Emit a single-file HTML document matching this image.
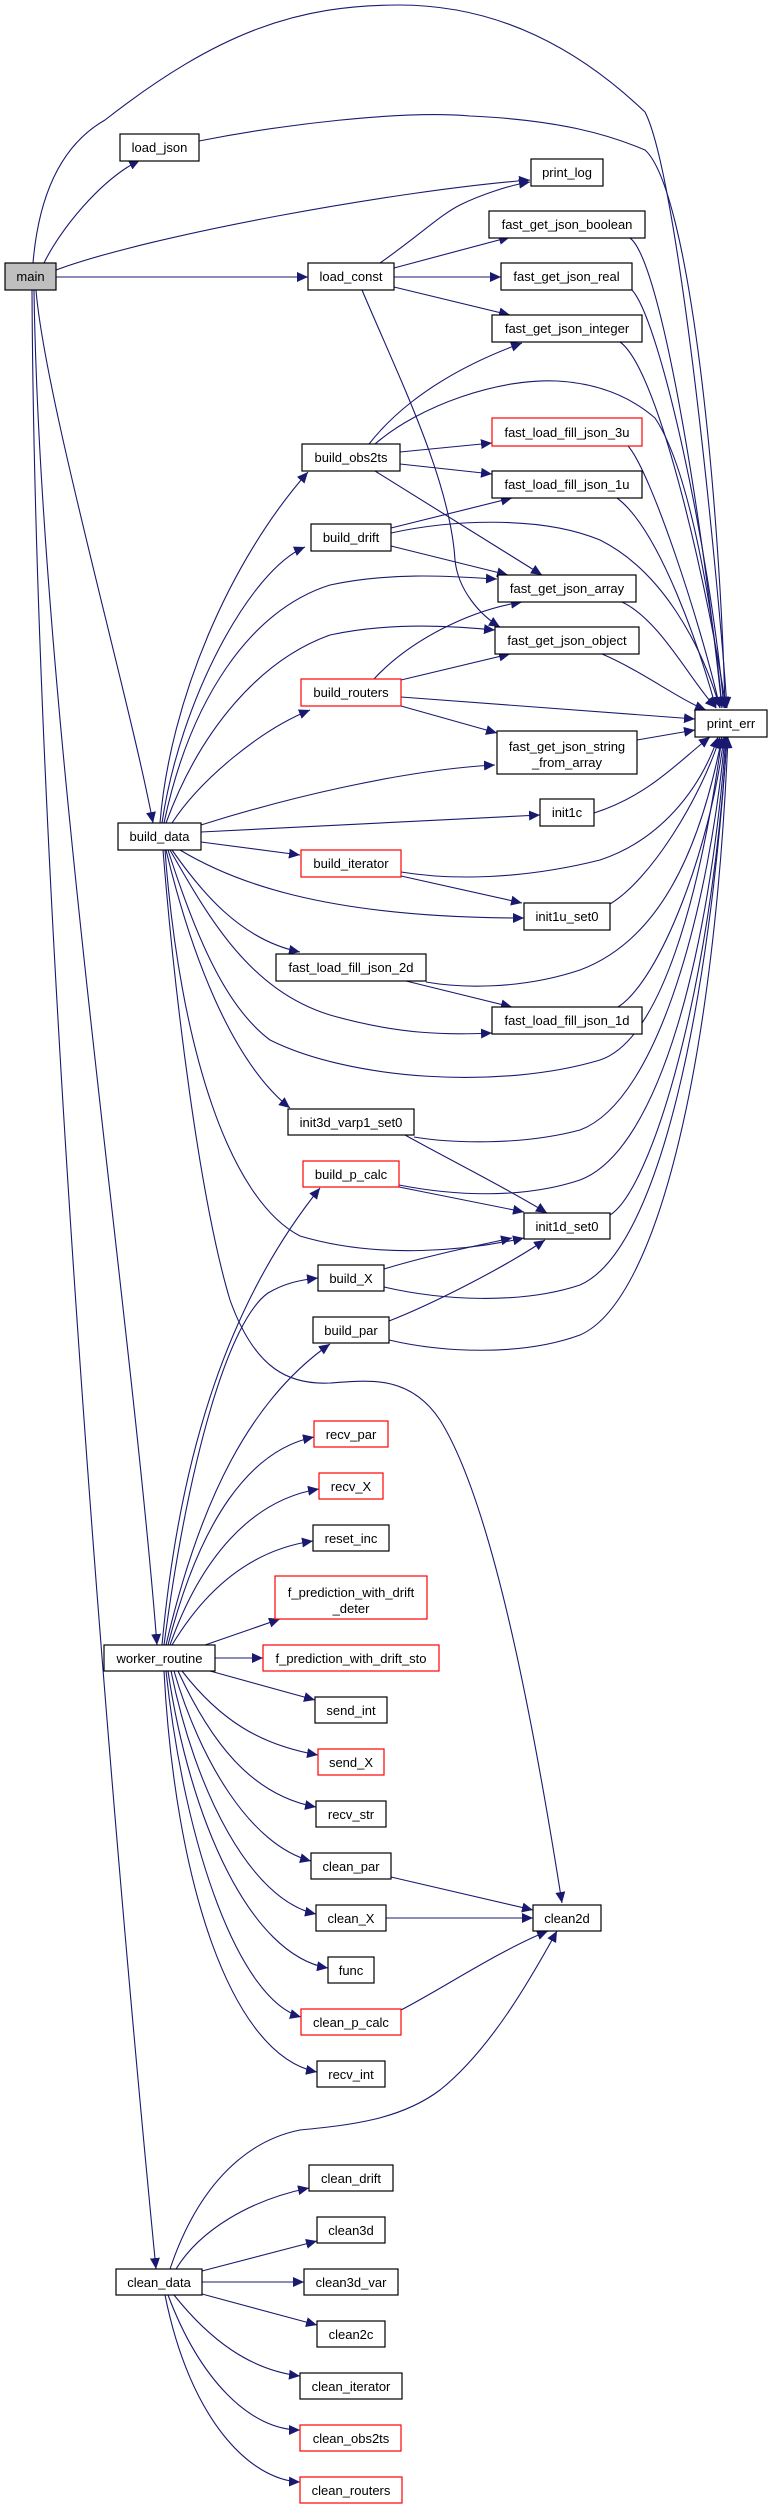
<!DOCTYPE html>
<html><head><meta charset="utf-8"><style>html,body{margin:0;padding:0;background:#fff}svg{display:block}</style></head>
<body>
<svg width="768" height="2510" viewBox="0 0 768 2510" xmlns="http://www.w3.org/2000/svg">
<defs>
<marker id="a" markerUnits="userSpaceOnUse" markerWidth="12" markerHeight="10" refX="11" refY="5" orient="auto">
<path d="M0,0 L11,5 L0,10 z" fill="#191970"/>
</marker>
</defs>
<g fill="none" stroke="#191970" stroke-width="1.1" marker-end="url(#a)">
<!-- main -->
<path d="M33,263 C40,180 70,140 105,120 C220,30 300,5 399,5 C500,5 580,50 645,112 C680,180 720,600 727,708"/>
<path d="M199,141 C280,125 400,110 470,116 C560,120 610,135 645,150 C690,190 720,500 725,708"/>
<path d="M44,263 C60,230 100,180 140,160"/>
<path d="M56,270 C150,235 400,190 530,180"/>
<path d="M56,277 L308,277"/>
<path d="M36,290 C45,400 130,700 153,823"/>
<path d="M34,290 C40,700 130,1300 157,1645"/>
<path d="M32,290 C35,900 110,1800 156,2269"/>
<!-- load_const -->
<path d="M380,263 C420,235 440,215 460,205 C480,195 510,185 530,182"/>
<path d="M394,268 L510,237"/>
<path d="M394,277 L501,277"/>
<path d="M394,287 L510,315"/>
<path d="M362,290 C400,380 450,480 455,560 C458,590 480,615 500,627"/>
<!-- to print_err -->
<path d="M630,238 C660,260 700,500 722,708"/>
<path d="M632,290 C660,320 710,550 724,708"/>
<path d="M620,342 C660,370 710,600 726,708"/>
<path d="M628,446 C650,470 700,620 720,708"/>
<path d="M617,498 C660,530 700,650 716,708"/>
<path d="M622,602 C660,620 690,680 716,708"/>
<path d="M602,654 C640,670 680,700 706,710"/>
<path d="M401,697 L695,719"/>
<path d="M637,740 L695,730"/>
<path d="M594,813 C650,795 680,760 710,737"/>
<!-- build_obs2ts -->
<path d="M369,444 C380,430 420,380 522,343"/>
<path d="M375,444 C420,405 500,378 557,381 C610,384 640,405 655,418 C690,470 715,620 722,708"/>
<path d="M400,452 L492,443"/>
<path d="M400,464 L492,474"/>
<path d="M375,471 L542,575"/>
<!-- build_drift -->
<path d="M391,528 L512,498"/>
<path d="M391,533 C450,520 540,515 600,540 C660,570 700,640 720,708"/>
<path d="M391,546 L508,575"/>
<!-- build_routers -->
<path d="M374,679 C410,640 470,610 522,602"/>
<path d="M401,680 L510,654"/>
<path d="M401,706 L497,733"/>
<!-- build_data -->
<path d="M160,823 C170,700 230,560 308,472"/>
<path d="M162,823 C180,700 250,570 305,547"/>
<path d="M164,823 C190,700 250,610 330,585 C400,570 470,578 497,579"/>
<path d="M166,823 C200,730 260,660 330,635 C400,620 470,628 495,630"/>
<path d="M172,823 C200,780 260,730 310,710"/>
<path d="M201,825 C280,800 400,770 495,765"/>
<path d="M201,832 L540,815"/>
<path d="M201,842 L300,855"/>
<path d="M180,850 C230,880 320,918 524,918"/>
<path d="M172,850 C200,890 240,940 300,952"/>
<path d="M170,850 C210,920 250,990 330,1015 C400,1035 450,1035 492,1033"/>
<path d="M168,850 C200,950 230,1010 270,1040 C350,1080 500,1090 600,1060 C660,1040 700,900 722,737"/>
<path d="M166,850 C190,950 230,1060 290,1108"/>
<path d="M165,850 C180,1050 230,1200 300,1236 C380,1260 470,1250 524,1238"/>
<path d="M163,850 C175,1000 200,1200 230,1300 C255,1370 290,1385 330,1383 C370,1380 410,1375 440,1420 C490,1500 530,1700 562,1903"/>
<!-- lower feeds to print_err -->
<path d="M401,872 C450,880 520,880 600,860 C660,840 700,790 718,737"/>
<path d="M401,876 L522,903"/>
<path d="M610,904 C650,880 700,800 720,737"/>
<path d="M426,982 C460,988 520,990 580,970 C660,940 700,850 722,737"/>
<path d="M406,981 L512,1007"/>
<path d="M618,1007 C660,980 710,850 724,737"/>
<path d="M414,1137 C450,1143 520,1146 580,1130 C660,1100 710,900 725,737"/>
<path d="M405,1135 C450,1160 510,1190 547,1213"/>
<path d="M399,1185 C450,1195 520,1200 580,1180 C660,1150 710,950 726,737"/>
<path d="M399,1187 L524,1212"/>
<path d="M610,1215 C650,1190 710,1000 727,737"/>
<path d="M384,1269 C430,1255 480,1245 512,1238"/>
<path d="M389,1321 C430,1305 500,1270 545,1240"/>
<path d="M384,1287 C440,1300 520,1305 580,1285 C660,1250 710,1000 727,737"/>
<path d="M389,1340 C440,1352 520,1357 580,1335 C660,1300 715,1050 728,737"/>
<!-- worker_routine -->
<path d="M162,1645 C180,1450 230,1300 320,1188"/>
<path d="M164,1645 C190,1450 230,1320 268,1293 C285,1283 300,1280 318,1278"/>
<path d="M166,1645 C200,1500 250,1400 330,1344"/>
<path d="M168,1645 C200,1520 250,1450 314,1437"/>
<path d="M170,1645 C200,1560 250,1500 319,1489"/>
<path d="M172,1645 C205,1590 250,1550 313,1541"/>
<path d="M205,1645 L280,1619"/>
<path d="M215,1658 L263,1658"/>
<path d="M210,1671 L315,1700"/>
<path d="M182,1671 C220,1720 260,1745 318,1755"/>
<path d="M178,1671 C210,1740 250,1795 316,1807"/>
<path d="M174,1671 C200,1760 250,1845 311,1861"/>
<path d="M171,1671 C195,1790 250,1900 316,1914"/>
<path d="M168,1671 C190,1820 250,1955 328,1968"/>
<path d="M166,1671 C185,1850 240,2000 301,2017"/>
<path d="M164,1671 C175,1880 230,2055 317,2072"/>
<path d="M391,1877 L533,1910"/>
<path d="M386,1918 L533,1918"/>
<path d="M401,2010 C440,1990 500,1950 548,1931"/>
<!-- clean_data -->
<path d="M170,2269 C200,2180 250,2140 300,2130 C350,2125 400,2120 440,2090 C490,2050 530,1980 557,1931"/>
<path d="M176,2269 C200,2230 250,2200 309,2188"/>
<path d="M202,2271 L317,2241"/>
<path d="M202,2282 L304,2282"/>
<path d="M202,2294 L317,2325"/>
<path d="M174,2295 C210,2340 250,2370 300,2376"/>
<path d="M168,2295 C200,2380 250,2430 300,2430"/>
<path d="M165,2295 C190,2420 250,2480 300,2482"/>
</g>
<g stroke="#000" stroke-width="1.2" fill="#fff">
<rect x="5" y="263" width="51" height="27" fill="#bfbfbf"/>
<rect x="120" y="134" width="79" height="27"/>
<rect x="531" y="159" width="72" height="27"/>
<rect x="489" y="211" width="156" height="27"/>
<rect x="308" y="263" width="86" height="27"/>
<rect x="501" y="263" width="131" height="27"/>
<rect x="492" y="315" width="150" height="27"/>
<rect x="302" y="444" width="98" height="27"/>
<rect x="492" y="471" width="150" height="27"/>
<rect x="311" y="524" width="80" height="27"/>
<rect x="498" y="575" width="138" height="27"/>
<rect x="495" y="627" width="144" height="27"/>
<rect x="695" y="710" width="72" height="27"/>
<rect x="497" y="731" width="140" height="43"/>
<rect x="540" y="799" width="54" height="27"/>
<rect x="118" y="823" width="83" height="27"/>
<rect x="524" y="903" width="86" height="27"/>
<rect x="276" y="954" width="150" height="27"/>
<rect x="492" y="1007" width="150" height="27"/>
<rect x="288" y="1109" width="126" height="26"/>
<rect x="524" y="1213" width="86" height="26"/>
<rect x="318" y="1265" width="66" height="26"/>
<rect x="313" y="1317" width="76" height="26"/>
<rect x="313" y="1525" width="76" height="26"/>
<rect x="104" y="1645" width="111" height="26"/>
<rect x="315" y="1697" width="72" height="26"/>
<rect x="316" y="1801" width="70" height="26"/>
<rect x="311" y="1853" width="80" height="26"/>
<rect x="316" y="1905" width="70" height="26"/>
<rect x="533" y="1905" width="68" height="26"/>
<rect x="328" y="1957" width="46" height="26"/>
<rect x="317" y="2061" width="68" height="26"/>
<rect x="309" y="2165" width="84" height="26"/>
<rect x="317" y="2217" width="68" height="26"/>
<rect x="116" y="2269" width="86" height="26"/>
<rect x="304" y="2269" width="94" height="26"/>
<rect x="317" y="2321" width="68" height="26"/>
<rect x="300" y="2373" width="102" height="26"/>
</g>
<g stroke="#ff0000" stroke-width="1.2" fill="#fff">
<rect x="492" y="418" width="150" height="28"/>
<rect x="301" y="679" width="100" height="27"/>
<rect x="301" y="850" width="100" height="27"/>
<rect x="303" y="1161" width="96" height="26"/>
<rect x="314" y="1421" width="74" height="26"/>
<rect x="319" y="1473" width="64" height="26"/>
<rect x="275" y="1576" width="152" height="43"/>
<rect x="263" y="1645" width="176" height="26"/>
<rect x="318" y="1749" width="66" height="26"/>
<rect x="301" y="2009" width="100" height="26"/>
<rect x="300" y="2425" width="101" height="26"/>
<rect x="300" y="2477" width="102" height="26"/>
</g>
<g font-family="Liberation Sans, sans-serif" font-size="13" text-anchor="middle" fill="#000">
<text x="30.5" y="281">main</text>
<text x="159.5" y="152">load_json</text>
<text x="567" y="177">print_log</text>
<text x="567" y="229">fast_get_json_boolean</text>
<text x="351" y="281">load_const</text>
<text x="566.5" y="281">fast_get_json_real</text>
<text x="567" y="333">fast_get_json_integer</text>
<text x="567" y="437">fast_load_fill_json_3u</text>
<text x="351" y="462">build_obs2ts</text>
<text x="567" y="489">fast_load_fill_json_1u</text>
<text x="351" y="542">build_drift</text>
<text x="567" y="593">fast_get_json_array</text>
<text x="567" y="645">fast_get_json_object</text>
<text x="351" y="697">build_routers</text>
<text x="731" y="728">print_err</text>
<text x="567" y="751">fast_get_json_string</text>
<text x="567" y="767">_from_array</text>
<text x="567" y="817">init1c</text>
<text x="159.5" y="841">build_data</text>
<text x="351" y="868">build_iterator</text>
<text x="567" y="921">init1u_set0</text>
<text x="351" y="972">fast_load_fill_json_2d</text>
<text x="567" y="1025">fast_load_fill_json_1d</text>
<text x="351" y="1127">init3d_varp1_set0</text>
<text x="351" y="1179">build_p_calc</text>
<text x="567" y="1231">init1d_set0</text>
<text x="351" y="1283">build_X</text>
<text x="351" y="1335">build_par</text>
<text x="351" y="1439">recv_par</text>
<text x="351" y="1491">recv_X</text>
<text x="351" y="1543">reset_inc</text>
<text x="351" y="1597">f_prediction_with_drift</text>
<text x="351" y="1613">_deter</text>
<text x="159.5" y="1663">worker_routine</text>
<text x="351" y="1663">f_prediction_with_drift_sto</text>
<text x="351" y="1715">send_int</text>
<text x="351" y="1767">send_X</text>
<text x="351" y="1819">recv_str</text>
<text x="351" y="1871">clean_par</text>
<text x="351" y="1923">clean_X</text>
<text x="567" y="1923">clean2d</text>
<text x="351" y="1975">func</text>
<text x="351" y="2027">clean_p_calc</text>
<text x="351" y="2079">recv_int</text>
<text x="351" y="2183">clean_drift</text>
<text x="351" y="2235">clean3d</text>
<text x="159" y="2287">clean_data</text>
<text x="351" y="2287">clean3d_var</text>
<text x="351" y="2339">clean2c</text>
<text x="351" y="2391">clean_iterator</text>
<text x="351" y="2443">clean_obs2ts</text>
<text x="351" y="2495">clean_routers</text>
</g>
</svg>
</body></html>
